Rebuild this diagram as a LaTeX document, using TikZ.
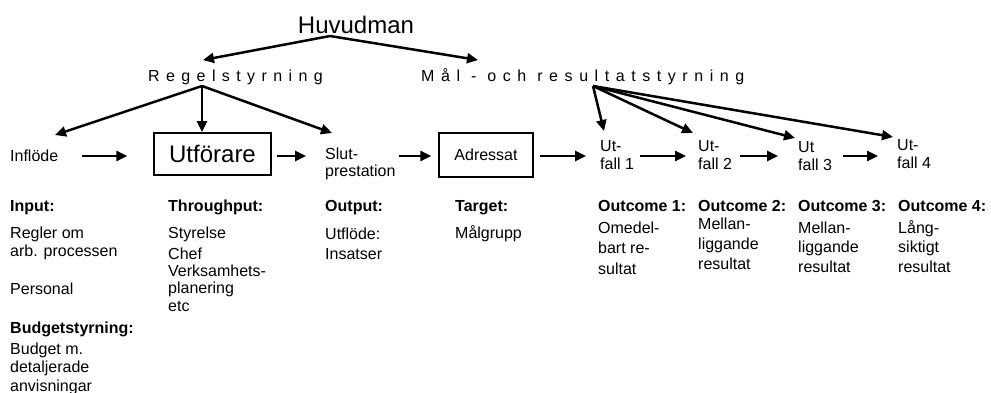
\documentclass[tikz,border=0pt]{standalone}
\usepackage{fontspec}
\setmainfont{Liberation Sans}
\usetikzlibrary{arrows.meta}
\begin{document}
\begin{tikzpicture}[x=1pt,y=-1pt,
  txt/.style={inner sep=0pt, anchor=base west, align=left, font=\fontsize{16}{18}\selectfont},
  hd/.style={txt, font=\fontsize{16}{18}\selectfont\bfseries},
  spaced/.style={inner sep=0pt, anchor=base west},
  arr/.style={line width=2.5pt, -{Triangle[length=11pt,width=10pt]}},
  boxnode/.style={draw, line width=1.2pt, inner sep=0pt, anchor=center}]
\useasboundingbox[fill=white] (0,0) rectangle (991,392);

% top of the hierarchy
\node[inner sep=0pt, font=\fontsize{24}{28}\selectfont] (huv) at (356,25) {Huvudman};
\node[spaced, font=\fontsize{16}{18}\selectfont\addfontfeature{LetterSpace=40}] (regel) at (148,81) {Regelstyrning};
\node[spaced, font=\fontsize{16}{18}\selectfont\addfontfeature{LetterSpace=41}] (mal) at (421,81) {Mål - och resultatstyrning};

% process chain (multi-line nodes are placed by the baseline of their last line)
\node[txt] (infl) at (10,161) {Inflöde};
\node[boxnode, minimum width=117pt, minimum height=42pt, font=\fontsize{24}{28}\selectfont] (utf) at (212.5,154) {Utförare};
\node[txt, font=\fontsize{16}{17}\selectfont] (slut) at (325,176) {Slut-\\prestation};
\node[boxnode, minimum width=94pt, minimum height=44pt, font=\fontsize{16}{18}\selectfont] (adr) at (486,155) {Adressat};
\node[txt] (u1) at (600,169) {Ut-\\fall 1};
\node[txt] (u2) at (698,169) {Ut-\\fall 2};
\node[txt] (u3) at (798,170) {Ut\\fall 3};
\node[txt] (u4) at (897,168) {Ut-\\fall 4};

% connector end points
\coordinate (row) at (0,156);
\coordinate (hb) at (330,36);
\coordinate (regin) at (203,60);
\coordinate (malin) at (478,60);
\coordinate (rs) at (202,86);
\coordinate (inflin) at (55,135);
\coordinate (utfin) at (202,132);
\coordinate (slutin) at (332,133);
\coordinate (ms) at (593,86);
\coordinate (u1in) at (604,131);
\coordinate (u2in) at (693,133);
\coordinate (u3in) at (795,138);
\coordinate (u4in) at (893,137);

\draw[arr] (hb) -- (regin);
\draw[arr] (hb) -- (malin);
\draw[arr] (rs) -- (inflin);
\draw[arr] (rs) -- (utfin);
\draw[arr] (rs) -- (slutin);
\draw[arr] (ms) -- (u1in);
\draw[arr] (ms) -- (u2in);
\draw[arr] (ms) -- (u3in);
\draw[arr] (ms) -- (u4in);

% horizontal flow along one row
\draw[arr, shorten <=24pt, shorten >=26pt] (infl.east |- row) -- (utf.west |- row);
\draw[arr, shorten <=5pt, shorten >=19pt] (utf.east |- row) -- (slut.west |- row);
\draw[arr, shorten <=3pt, shorten >=7pt] (slut.east |- row) -- (adr.west |- row);
\draw[arr, shorten <=6pt, shorten >=14pt] (adr.east |- row) -- (u1.west |- row);
\draw[arr, shorten <=6pt, shorten >=12pt] (u1.east |- row) -- (u2.west |- row);
\draw[arr, shorten <=8pt, shorten >=20pt] (u2.east |- row) -- (u3.west |- row);
\draw[arr, shorten <=11pt, shorten >=19pt] (u3.east |- row) -- (u4.west |- row);

% descriptions
\node[hd] (inp) at (10,211) {Input:};
\node[txt] (regler) at (10,256) {Regler om\\arb. processen};
\node[txt] (pers) at (10,294) {Personal};
\node[hd] (budh) at (10,333) {Budgetstyrning:};
\node[txt, font=\fontsize{16}{18.5}\selectfont] (budt) at (10,391) {Budget m.\\detaljerade\\anvisningar};

\node[hd] (thr) at (168,211) {Throughput:};
\node[txt] (styr) at (168,238) {Styrelse};
\node[txt, font=\fontsize{16}{17.3}\selectfont] (chef) at (168,311) {Chef\\Verksamhets-\\planering\\etc};

\node[hd] (outp) at (325,211) {Output:};
\node[txt, font=\fontsize{16}{20}\selectfont] (utfl) at (325,259) {Utflöde:\\Insatser};

\node[hd] (targ) at (455,211) {Target:};
\node[txt] (malg) at (455,238) {Målgrupp};

\node[hd] (o1) at (598,211) {Outcome 1:};
\node[hd] (o2) at (698,211) {Outcome 2:};
\node[hd] (o3) at (798,211) {Outcome 3:};
\node[hd] (o4) at (898,211) {Outcome 4:};
\node[txt, font=\fontsize{16}{20.5}\selectfont] (o1t) at (598,274) {Omedel-\\bart re-\\sultat};
\node[txt, font=\fontsize{16}{20}\selectfont] (o2t) at (698,269) {Mellan-\\liggande\\resultat};
\node[txt, font=\fontsize{16}{19.5}\selectfont] (o3t) at (798,272) {Mellan-\\liggande\\resultat};
\node[txt, font=\fontsize{16}{19.5}\selectfont] (o4t) at (898,272) {Lång-\\siktigt\\resultat};
\end{tikzpicture}
\end{document}
